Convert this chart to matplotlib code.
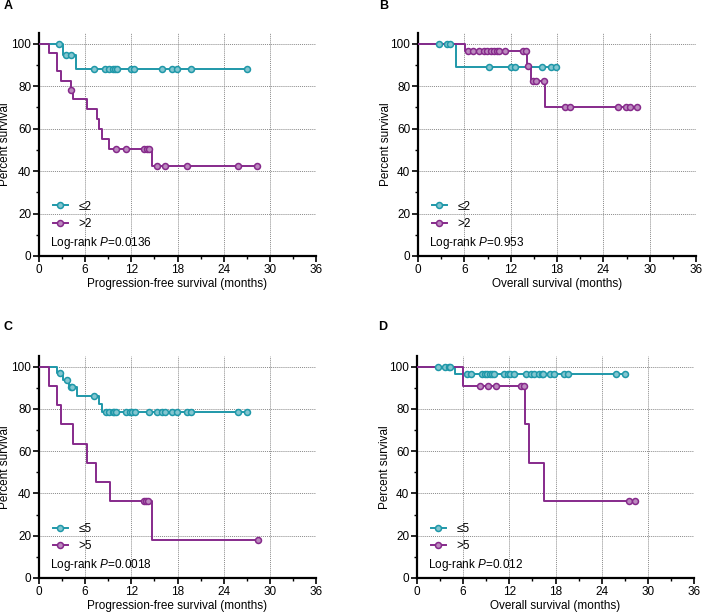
import matplotlib
matplotlib.use("Agg")
import matplotlib.pyplot as plt
from matplotlib.ticker import MultipleLocator
from matplotlib.lines import Line2D
import numpy as np

plt.rcParams['font.family'] = ['Liberation Sans', 'DejaVu Sans']
plt.rcParams['mathtext.fontset'] = 'custom'
plt.rcParams['mathtext.rm'] = 'Liberation Sans'
plt.rcParams['mathtext.it'] = 'Liberation Sans:italic'

TEAL = '#1F98A9'
PURPLE = '#862A8B'

# ---------------- data ----------------
# Panel A (PFS, cutoff 2)
A_low_event_t = [3.1, 4.8]
A_low_event_s = [94.7, 88.2]
A_low_cens_t = [2.6, 3.5, 4.2, 7.1, 8.6, 9.1, 9.6, 9.9, 10.1, 11.9, 12.4, 16.0, 17.3, 17.9, 19.7, 27.0]
A_high_event_t = [1.3, 2.3, 2.9, 4.1, 4.4, 6.2, 7.5, 7.8, 8.2, 9.1, 14.7]
A_high_event_s = [95.7, 87.0, 82.6, 78.3, 73.9, 69.2, 64.5, 59.9, 55.3, 50.6, 42.2]
A_high_cens_t = [4.2, 10.05, 11.3, 13.6, 14.0, 14.3, 15.3, 16.4, 19.2, 25.9, 28.3]

# Panel B (OS, cutoff 2)
B_low_event_t = [4.95]
B_low_event_s = [88.9]
B_low_cens_t = [2.7, 3.7, 4.15, 9.15, 12.0, 12.5, 16.1, 17.2, 17.9]
B_high_event_t = [6.1, 14.1, 14.6, 16.4]
B_high_event_s = [96.7, 89.6, 82.5, 70.3]
B_high_cens_t = [6.5, 7.1, 7.9, 8.5, 8.9, 9.4, 9.8, 10.2, 10.45, 11.3, 13.6, 14.0,
                 14.25, 14.9, 15.3, 16.3, 19.1, 19.7, 25.9, 26.9, 27.5, 28.4]

# Panel C (PFS, cutoff 5)
C_low_event_t = [2.4, 3.1, 3.9, 4.9, 7.75, 8.15]
C_low_event_s = [97.0, 93.7, 90.2, 86.3, 82.5, 78.4]
C_low_cens_t = [2.7, 3.6, 4.1, 4.35, 7.15, 8.7, 9.1, 9.6, 9.8, 10.05, 11.3, 11.8, 12.1,
                12.5, 14.25, 15.3, 16.0, 16.4, 17.3, 17.9, 19.2, 19.7, 25.9, 27.0]
C_high_event_t = [1.35, 2.4, 2.85, 4.45, 6.25, 7.45, 9.25, 14.7]
C_high_event_s = [90.9, 81.8, 72.7, 63.6, 54.5, 45.5, 36.4, 18.2]
C_high_cens_t = [13.6, 13.95, 14.2, 28.4]

# Panel D (OS, cutoff 5)
D_low_event_t = [4.9]
D_low_event_s = [96.4]
D_low_cens_t = [2.7, 3.7, 4.1, 4.3, 6.5, 7.0, 8.5, 8.85, 9.15, 9.5, 9.75, 10.05, 11.25,
                11.8, 12.15, 12.55, 14.15, 14.85, 15.2, 15.9, 16.2, 16.4, 17.3, 17.85,
                19.15, 19.6, 25.8, 27.0]
D_high_event_t = [5.95, 14.05, 14.6, 16.5]
D_high_event_s = [90.9, 72.7, 54.5, 36.4]
D_high_cens_t = [8.2, 9.2, 10.25, 13.5, 13.95, 27.5, 28.35]

panel_letters = ['A', 'B', 'C', 'D']
x_labels = ['Progression-free survival (months)', 'Overall survival (months)',
            'Progression-free survival (months)', 'Overall survival (months)']
y_label = 'Percent survival'
legend_labels = [['≤2', '>2'], ['≤2', '>2'], ['≤5', '>5'], ['≤5', '>5']]
pvalues = ['0.0136', '0.953', '0.0018', '0.012']
x_ticks = [0, 6, 12, 18, 24, 30, 36]
y_ticks = [0, 20, 40, 60, 80, 100]

panels = [
    ((A_low_event_t, A_low_event_s, A_low_cens_t), (A_high_event_t, A_high_event_s, A_high_cens_t)),
    ((B_low_event_t, B_low_event_s, B_low_cens_t), (B_high_event_t, B_high_event_s, B_high_cens_t)),
    ((C_low_event_t, C_low_event_s, C_low_cens_t), (C_high_event_t, C_high_event_s, C_high_cens_t)),
    ((D_low_event_t, D_low_event_s, D_low_cens_t), (D_high_event_t, D_high_event_s, D_high_cens_t)),
]

# ---------------- figure ----------------
W, H = 702, 616
fig = plt.figure(figsize=(W / 100, H / 100), dpi=100)

# axes boxes in pixels: left, right, top, bottom
boxes = [(39, 316, 33, 256), (418, 696, 33, 256), (39, 316, 356, 578), (417, 694, 356, 578)]
letter_pos = [(4, 12), (379, 12), (3, 333), (378, 333)]
ylabel_x = [11, 392, 11, 391]

def lighten(c, f=0.45):
    rgb = np.array(matplotlib.colors.to_rgb(c))
    return tuple(rgb + (1 - rgb) * f)

def level_at(t, ev_t, ev_s):
    s = 100.0
    for et, es in zip(ev_t, ev_s):
        if et <= t:
            s = es
    return s

FS = 8.5
for i, ((low, high), box) in enumerate(zip(panels, boxes)):
    l, r, t, b = box
    ax = fig.add_axes([l / W, 1 - b / H, (r - l) / W, (b - t) / H])
    handles = []
    for (ev_t, ev_s, cens), col in zip((low, high), (TEAL, PURPLE)):
        end = max(cens + ev_t)
        xs = [0] + list(ev_t) + [end]
        ys = [100] + list(ev_s) + [ev_s[-1]]
        ax.step(xs, ys, where='post', color=col, lw=1.4, zorder=3)
        cy = [level_at(c, ev_t, ev_s) for c in cens]
        ax.plot(cens, cy, 'o', ms=4.3, mec=col, mfc=lighten(col), mew=1.1, ls='none', zorder=4)
        handles.append(Line2D([0], [0], color=col, lw=1.4, marker='o', ms=4.3,
                              mec=col, mfc=lighten(col), mew=1.1))
    ax.set_xlim(0, 36)
    ax.set_ylim(0, 105)
    ax.set_xticks(x_ticks)
    ax.set_yticks(y_ticks)
    ax.xaxis.set_minor_locator(MultipleLocator(3))
    ax.yaxis.set_minor_locator(MultipleLocator(10))
    ax.tick_params(axis='both', which='major', length=4, width=1.2, labelsize=FS, pad=1.5, color='black')
    ax.tick_params(axis='both', which='minor', length=2.5, width=1.0, color='black')
    for s in ['top', 'right']:
        ax.spines[s].set_visible(False)
    for s in ['left', 'bottom']:
        ax.spines[s].set_linewidth(1.6)
    for gx in x_ticks[1:]:
        ax.axvline(gx, color='#8a8a8a', lw=0.7, ls=(0, (1, 1)), zorder=1)
    for gy in y_ticks[1:]:
        ax.axhline(gy, color='#8a8a8a', lw=0.7, ls=(0, (1, 1)), zorder=1)
    ax.set_xlabel(x_labels[i], fontsize=FS, labelpad=2)
    ax.set_ylabel(y_label, fontsize=FS)
    ax.yaxis.set_label_coords((ylabel_x[i] - l) / (r - l), 0.5)
    ax.legend(handles, legend_labels[i], loc='lower left', bbox_to_anchor=(0.02, 0.08),
              frameon=False, fontsize=FS, handlelength=1.25, handletextpad=0.9,
              labelspacing=0.45, borderaxespad=0.3)
    ax.text(0.04, 0.058, 'Log-rank $\\it{P}$=' + pvalues[i], transform=ax.transAxes,
            fontsize=FS, va='center', ha='left')
    fig.text(letter_pos[i][0] / W, 1 - letter_pos[i][1] / H, panel_letters[i],
             fontsize=9, fontweight='bold', va='bottom', ha='left')

fig.savefig('out.png', dpi=100)
